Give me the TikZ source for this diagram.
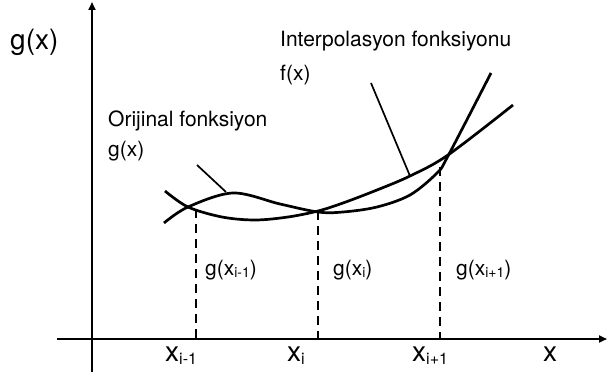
\documentclass[tikz,border=0pt]{standalone}
\usepackage{fontspec}
\setmainfont{TeX Gyre Heros}
\usetikzlibrary{arrows.meta}
\newcommand{\bigsub}[1]{\raisebox{-3pt}{\fontsize{16}{16}\selectfont #1}}
\newcommand{\smsub}[1]{\raisebox{-2pt}{\fontsize{14}{14}\selectfont #1}}
\begin{document}
\begin{tikzpicture}[x=1pt,y=-1pt,
  axisline/.style={line width=2pt},
  curve/.style={line width=2.7pt},
  guide/.style={line width=2.6pt, dash pattern=on 9pt off 6pt},
  pointer/.style={line width=1.7pt},
  bigtxt/.style={font=\fontsize{28}{28}\selectfont, anchor=base west, inner sep=0pt},
  txt/.style={font=\fontsize{21}{21}\selectfont, anchor=base west, inner sep=0pt}]
\useasboundingbox (0,0) rectangle (608,379);
% axes
\coordinate (ybot) at (92,372);
\coordinate (ytop) at (92,2);
\coordinate (xleft) at (57,339);
\coordinate (xright) at (607,339);
\draw[axisline,-{Triangle[length=8pt,width=7pt]}] (ybot) -- (ytop);
\draw[axisline,-{Triangle[length=8pt,width=7pt]}] (xleft) -- (xright);
% guide lines
\coordinate (p1) at (196,209);
\coordinate (q1) at (196,339);
\coordinate (p2) at (318,211);
\coordinate (q2) at (318,339);
\coordinate (p3) at (440,167);
\coordinate (q3) at (440,339);
\draw[guide] (p1) -- (q1);
\draw[guide] (p2) -- (q2);
\draw[guide] (p3) -- (q3);
% original function g(x)
\draw[curve] plot[smooth,tension=0.55] coordinates {(164,223) (188,207) (233,193) (280,204) (318,212) (343,212) (377,207) (410,195) (437,173) (448,156) (491,73)};
% interpolation function f(x)
\draw[curve] plot[smooth,tension=0.55] coordinates {(165,191) (188,207) (222,217) (255,220) (288,217) (318,211) (343,203) (377,190) (410,176) (448,155) (513,105)};
% pointers
\coordinate (o1) at (197,165);
\coordinate (o2) at (226,192);
\coordinate (i1) at (371,83);
\coordinate (i2) at (410,176);
\draw[pointer] (o1) -- (o2);
\draw[pointer] (i1) -- (i2);
% labels
\node[bigtxt] (gy) at (10,50) {g(x)};
\node[txt] (interp) at (280,47) {Interpolasyon fonksiyonu};
\node[txt] (fx) at (280,81) {f(x)};
\node[txt] (orig) at (108,127) {Orijinal fonksiyon};
\node[txt] (gx) at (108,157) {g(x)};
\node[txt] (g1) at (205,276) {g(x\smsub{i-1})};
\node[txt] (g2) at (333,276) {g(x\smsub{i})};
\node[txt] (g3) at (456,276) {g(x\smsub{i+1})};
\node[bigtxt] (x1) at (165,362) {x\bigsub{i-1}};
\node[bigtxt] (x2) at (287,362) {x\bigsub{i}};
\node[bigtxt] (x3) at (412,362) {x\bigsub{i+1}};
\node[bigtxt] (x4) at (543,362) {x};
\end{tikzpicture}
\end{document}
